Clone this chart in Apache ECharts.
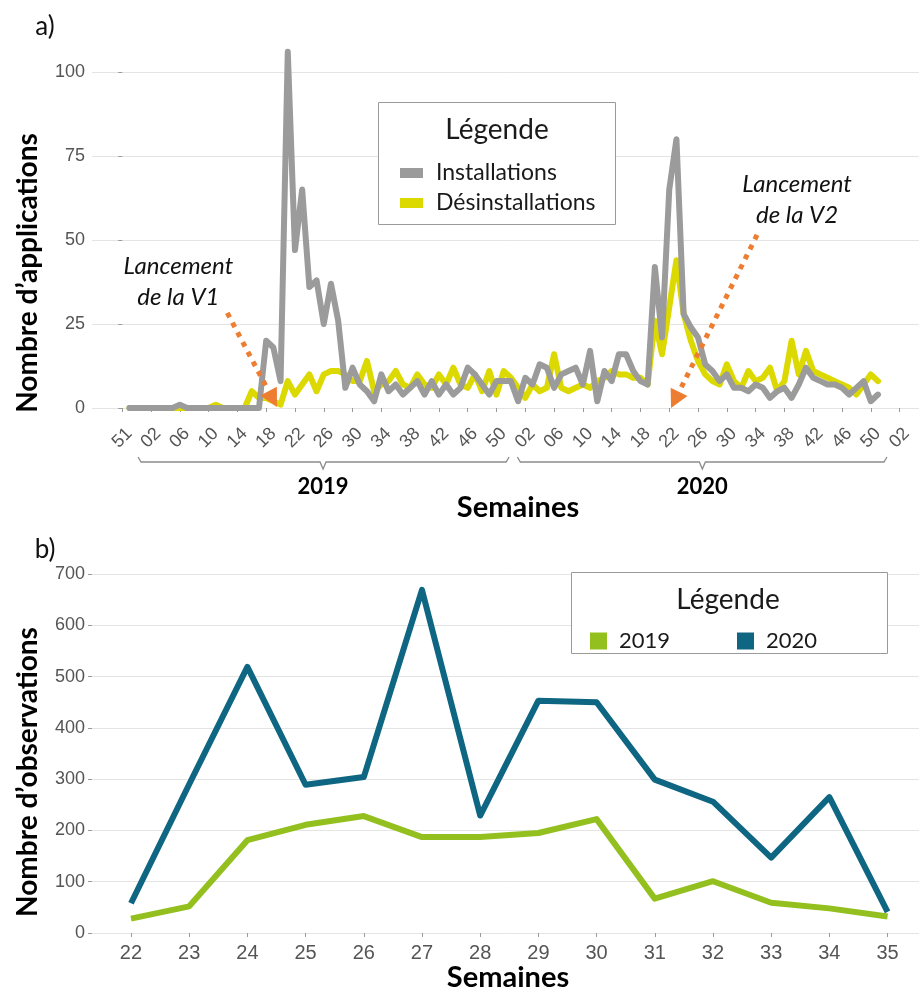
<!DOCTYPE html>
<html>
<head>
<meta charset="utf-8">
<script src="https://cdn.jsdelivr.net/npm/echarts@6/dist/echarts.min.js"></script>
<style>
  html, body { margin: 0; padding: 0; background: #fff; }
  #chart { width: 919px; height: 995px; }
</style>
</head>
<body>
<div id="chart"></div>
<script>
// ---------- Panel a) : weekly installs / uninstalls ----------
// Week axis: one step per week, first point at step 1 (last week of 2018)
const firstWeekStep = 1;
// Tick labels shown every 4 weeks, at steps 0, 4, 8, ...
const weekTickLabels = ['51', '02', '06', '10', '14', '18', '22', '26', '30', '34', '38', '42', '46', '50',
                        '02', '06', '10', '14', '18', '22', '26', '30', '34', '38', '42', '46', '50', '02'];
const weekTickStep = 4;

const installations = [
  0, 0, 0, 0, 0, 0, 0, 1, 0, 0, 0, 0, 0, 0, 0, 0, 0, 0, 0,
  20, 18, 8, 106, 47, 65, 36, 38, 25, 37, 26, 6, 12, 7, 5, 2, 10, 5, 7, 4, 6,
  8, 4, 8, 4, 7, 4, 6, 12, 10, 7, 4, 8, 8, 8, 2, 9, 7, 13, 12, 6,
  10, 11, 12, 7, 17, 2, 11, 8, 16, 16, 11, 8, 7, 42, 21, 65, 80, 28, 24, 21,
  13, 11, 8, 10, 6, 6, 5, 7, 6, 3, 5, 6, 3, 7, 12, 9, 8, 7, 7, 6,
  4, 6, 8, 2, 4
];
const desinstallations = [
  0, 0, 0, 0, 0, 0, 0, 0, 0, 0, 0, 0, 1, 0, 0, 0, 0, 5, 3,
  3, 2, 1, 8, 4, 7, 10, 5, 10, 11, 11, 10, 8, 8, 14, 5, 7, 8, 11, 7, 6,
  10, 7, 6, 10, 7, 12, 7, 6, 10, 5, 11, 4, 11, 9, 6, 3, 7, 5, 6, 16,
  6, 5, 6, 7, 6, 8, 9, 11, 10, 10, 9, 9, 7, 26, 16, 30, 44, 28, 20, 14,
  10, 8, 7, 13, 8, 6, 11, 8, 9, 12, 5, 8, 20, 10, 17, 11, 10, 9, 8, 7,
  6, 4, 7, 10, 8
];
const yearLabels = ['2019', '2020'];
const yearSpanStart = [2.2, 54.9];   // in week steps
const yearSpanEnd = [53.75, 106.25];
const yearSpanMid = [27.9, 80.6];

// ---------- Panel b) : weekly observations ----------
const semainesB = [22, 23, 24, 25, 26, 27, 28, 29, 30, 31, 32, 33, 34, 35];
const observations2019 = [28, 52, 181, 211, 228, 187, 187, 195, 222, 67, 101, 59, 48, 32];
const observations2020 = [58, 290, 519, 289, 304, 669, 229, 453, 450, 299, 256, 147, 265, 41];

// ---------- styling ----------
const GREY = '#9b9b9b';
const YELLOW = '#dcd900';
const GREEN = '#93c01f';
const TEAL = '#0e6682';
const ORANGE = '#ed7d31';
const TICK_TEXT = '#555555';
const GRID_LINE = '#e4e4e4';
const SANS = "'Liberation Sans', Arial, sans-serif";
const HUMAN = "Lato, 'Open Sans', sans-serif";

const weekTickValues = weekTickLabels.map((_, k) => k * weekTickStep);
const toPairs = (arr, start) => arr.map((v, k) => [start + k, v]);

const option = {
  animation: false,
  backgroundColor: '#ffffff',
  grid: [
    { left: 92, right: 0, top: 72, height: 336 },
    { left: 92, right: 0, top: 574, height: 359 }
  ],
  xAxis: [
    {
      type: 'value', gridIndex: 0, min: -4.2, max: 110.7,
      axisLine: { show: false },
      splitLine: { show: false },
      axisTick: { show: true, customValues: weekTickValues, length: 4, lineStyle: { color: '#9a9a9a' } },
      axisLabel: {
        customValues: weekTickValues,
        formatter: v => weekTickLabels[Math.round(v / weekTickStep)] || '',
        rotate: 45, align: 'center', verticalAlign: 'middle', margin: 30,
        fontFamily: SANS, fontSize: 18, color: TICK_TEXT
      }
    },
    {
      type: 'value', gridIndex: 1, min: 21.33, max: 35.54,
      axisLine: { show: false },
      splitLine: { show: false },
      axisTick: { show: true, customValues: semainesB, length: 4, lineStyle: { color: '#9a9a9a' } },
      axisLabel: {
        customValues: semainesB, margin: 10,
        fontFamily: SANS, fontSize: 20, color: TICK_TEXT
      }
    }
  ],
  yAxis: [
    {
      type: 'value', gridIndex: 0, min: 0, max: 100, interval: 25,
      axisLine: { show: false },
      axisTick: { show: true, length: 4, lineStyle: { color: '#9a9a9a' } },
      splitLine: { show: true, lineStyle: { color: GRID_LINE, width: 1 } },
      axisLabel: { margin: 7, fontFamily: SANS, fontSize: 18, color: TICK_TEXT }
    },
    {
      type: 'value', gridIndex: 1, min: 0, max: 700, interval: 100,
      axisLine: { show: false },
      axisTick: { show: true, length: 4, lineStyle: { color: '#9a9a9a' } },
      splitLine: { show: true, lineStyle: { color: GRID_LINE, width: 1 } },
      axisLabel: { margin: 7, fontFamily: SANS, fontSize: 18, color: TICK_TEXT }
    }
  ],
  legend: [
    {
      data: ['Installations', 'Désinstallations'],
      orient: 'vertical', left: 395, top: 156,
      icon: 'rect', itemWidth: 23, itemHeight: 10, itemGap: 6,
      selectedMode: false,
      textStyle: { fontFamily: HUMAN, fontSize: 23, lineHeight: 24, color: '#1a1a1a', padding: [0, 0, 0, 8] }
    },
    {
      data: ['2019', '2020'],
      orient: 'horizontal', left: 585, top: 625,
      icon: 'rect', itemWidth: 17, itemHeight: 17, itemGap: 46,
      selectedMode: false,
      textStyle: { fontFamily: HUMAN, fontSize: 22, lineHeight: 22, color: '#1a1a1a', padding: [0, 0, 0, 7], width: 72 }
    }
  ],
  series: [
    {
      name: 'Installations', type: 'line', xAxisIndex: 0, yAxisIndex: 0,
      data: toPairs(installations, firstWeekStep),
      showSymbol: false, clip: false, z: 3,
      itemStyle: { color: GREY },
      lineStyle: { color: GREY, width: 6, join: 'round', cap: 'round' }
    },
    {
      name: 'Désinstallations', type: 'line', xAxisIndex: 0, yAxisIndex: 0,
      data: toPairs(desinstallations, firstWeekStep),
      showSymbol: false, clip: false, z: 2,
      itemStyle: { color: YELLOW },
      lineStyle: { color: YELLOW, width: 6, join: 'round', cap: 'round' }
    },
    {
      name: '2019', type: 'line', xAxisIndex: 1, yAxisIndex: 1,
      data: semainesB.map((w, k) => [w, observations2019[k]]),
      showSymbol: false, clip: false,
      itemStyle: { color: GREEN },
      lineStyle: { color: GREEN, width: 6, join: 'round' }
    },
    {
      name: '2020', type: 'line', xAxisIndex: 1, yAxisIndex: 1,
      data: semainesB.map((w, k) => [w, observations2020[k]]),
      showSymbol: false, clip: false,
      itemStyle: { color: TEAL },
      lineStyle: { color: TEAL, width: 6, join: 'round' }
    }
  ]
};

const chart = echarts.init(document.getElementById('chart'), null, { renderer: 'canvas' });
chart.setOption(option);

// ---------- annotations (anchored in data space of panel a) ----------
const toPx = (x, y) => chart.convertToPixel({ xAxisIndex: 0, yAxisIndex: 0 }, [x, y]);
// caption centre, dotted line start, arrow tip
const launches = [
  { text: 'Lancement\nde la V1', at: [7.8, 37.5], from: [14.6, 28.3], tip: [21.5, 0.3] },
  { text: 'Lancement\nde la V2', at: [93.75, 62], from: [88.2, 51.5], tip: [76.25, 0] }
];

const graphics = [];

// legend frames and titles
graphics.push(
  { type: 'rect', z: 3, shape: { x: 378.5, y: 102.5, width: 237, height: 122 },
    style: { fill: '#fff', stroke: '#9a9a9a', lineWidth: 1 } },
  { type: 'text', z: 5, x: 497, y: 130,
    style: { text: 'Légende', font: '28px ' + HUMAN, fill: '#1a1a1a', textAlign: 'center', textVerticalAlign: 'middle' } },
  { type: 'rect', z: 3, shape: { x: 571.5, y: 572.5, width: 316, height: 81 },
    style: { fill: '#fff', stroke: '#9a9a9a', lineWidth: 1 } },
  { type: 'text', z: 5, x: 728, y: 600,
    style: { text: 'Légende', font: '28px ' + HUMAN, fill: '#1a1a1a', textAlign: 'center', textVerticalAlign: 'middle' } }
);

// panel tags and axis titles
graphics.push(
  { type: 'text', x: 45, y: 27, style: { text: 'a)', font: '26px ' + HUMAN, fill: '#111', textAlign: 'center', textVerticalAlign: 'middle' } },
  { type: 'text', x: 45, y: 550, style: { text: 'b)', font: '26px ' + HUMAN, fill: '#111', textAlign: 'center', textVerticalAlign: 'middle' } },
  { type: 'text', x: 28, y: 273, rotation: Math.PI / 2,
    style: { text: 'Nombre d’applications', font: 'bold 28px ' + HUMAN, fill: '#000', textAlign: 'center', textVerticalAlign: 'middle' } },
  { type: 'text', x: 28, y: 772, rotation: Math.PI / 2,
    style: { text: 'Nombre d’observations', font: 'bold 28px ' + HUMAN, fill: '#000', textAlign: 'center', textVerticalAlign: 'middle' } },
  { type: 'text', x: 518, y: 508,
    style: { text: 'Semaines', font: 'bold 29px ' + HUMAN, fill: '#000', textAlign: 'center', textVerticalAlign: 'middle' } },
  { type: 'text', x: 508, y: 978,
    style: { text: 'Semaines', font: 'bold 29px ' + HUMAN, fill: '#000', textAlign: 'center', textVerticalAlign: 'middle' } }
);

// year brackets under the week axis
const bracketY = toPx(0, 0)[1] + 54;
yearLabels.forEach((year, k) => {
  const x0 = toPx(yearSpanStart[k], 0)[0];
  const x1 = toPx(yearSpanEnd[k], 0)[0];
  const xm = toPx(yearSpanMid[k], 0)[0];
  graphics.push({
    type: 'polyline',
    shape: { points: [[x0, bracketY - 5], [x0 + 3, bracketY], [xm - 3, bracketY], [xm, bracketY + 7],
                      [xm + 3, bracketY], [x1 - 3, bracketY], [x1, bracketY - 5]] },
    style: { stroke: '#8c8c8c', lineWidth: 1.3, fill: null }
  });
  graphics.push({
    type: 'text', x: xm, y: bracketY + 25,
    style: { text: year, font: 'bold 22px ' + HUMAN, fill: '#000', textAlign: 'center', textVerticalAlign: 'middle' }
  });
});

// launch annotations: italic caption + dotted arrow ending in a filled head
launches.forEach(l => {
  const c = toPx(l.at[0], l.at[1]);
  graphics.push({
    type: 'text', x: c[0], y: c[1], z: 6,
    style: { text: l.text, font: 'italic 24px ' + HUMAN, lineHeight: 31, fill: '#111', textAlign: 'center', textVerticalAlign: 'middle' }
  });
  const a = toPx(l.from[0], l.from[1]);
  const t = toPx(l.tip[0], l.tip[1]);
  const dx = t[0] - a[0], dy = t[1] - a[1];
  const len = Math.hypot(dx, dy);
  const ux = dx / len, uy = dy / len;
  const headLen = 18, halfW = 9.4;
  const base = [t[0] - ux * headLen, t[1] - uy * headLen];
  graphics.push({
    type: 'line', z: 6,
    shape: { x1: a[0], y1: a[1], x2: base[0] - ux * 4, y2: base[1] - uy * 4 },
    style: { stroke: ORANGE, lineWidth: 5, lineDash: [5, 6], lineCap: 'butt' }
  });
  graphics.push({
    type: 'polygon', z: 6,
    shape: { points: [t, [base[0] - uy * halfW, base[1] + ux * halfW], [base[0] + uy * halfW, base[1] - ux * halfW]] },
    style: { fill: ORANGE }
  });
});

chart.setOption({ graphic: graphics });
</script>
</body>
</html>
